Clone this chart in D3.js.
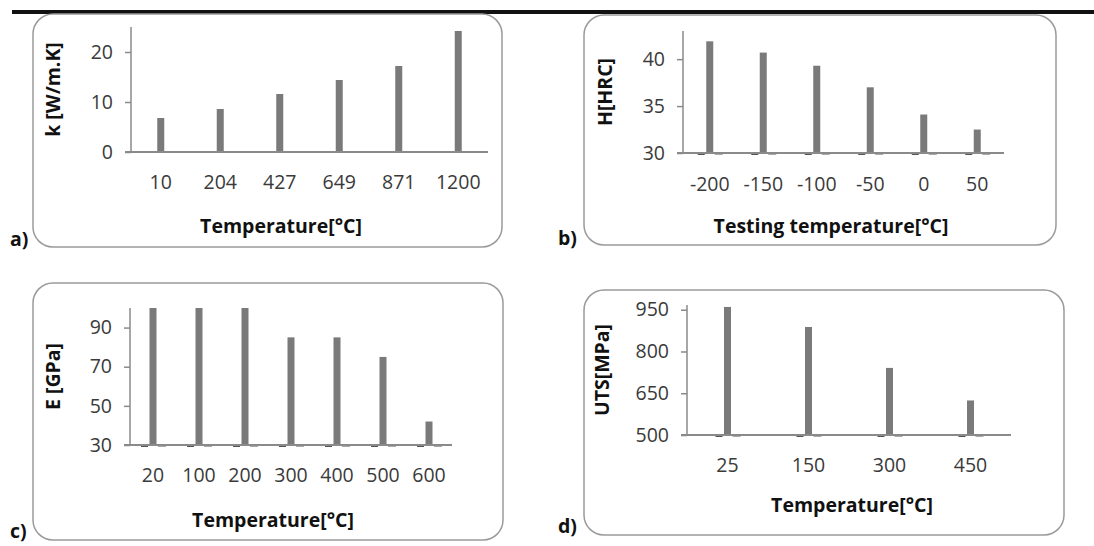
<!DOCTYPE html>
<html>
<head>
<meta charset="utf-8">
<script src="https://cdn.jsdelivr.net/npm/d3@7"></script>
<style>
  body { margin: 0; background: #fff; }
  svg { display: block; }
  .tick text { font-family: "Open Sans", sans-serif; font-size: 19.5px; fill: #3a3a3a; }
  .title { font-family: "Open Sans", sans-serif; font-size: 19.5px; font-weight: bold; fill: #111; }
</style>
</head>
<body>
<div id="chart"></div>
<script>
/* data */
var aCategories = ["10", "204", "427", "649", "871", "1200"];
var aValues = [6.8, 8.6, 11.6, 14.4, 17.2, 24.2];
var aTicks = [0, 10, 20];

var bCategories = ["-200", "-150", "-100", "-50", "0", "50"];
var bValues = [41.9, 40.7, 39.3, 37.0, 34.1, 32.5];
var bTicks = [30, 35, 40];

var cCategories = ["20", "100", "200", "300", "400", "500", "600"];
var cValues = [100, 100, 100, 85, 85, 75, 42];
var cTicks = [30, 50, 70, 90];

var dCategories = ["25", "150", "300", "450"];
var dValues = [960, 888, 741, 624];
var dTicks = [500, 650, 800, 950];

var W = 1094, H = 546;
var svg = d3.select("#chart").append("svg").attr("width", W).attr("height", H);

// top rule
svg.append("line")
  .attr("x1", 12).attr("x2", W).attr("y1", 12).attr("y2", 12)
  .attr("stroke", "#111").attr("stroke-width", 4);

var panels = [
  {box: [33, 14, 469, 233], left: 131, right: 488, top: 27, bottom: 152,
   cats: aCategories, vals: aValues, ticks: aTicks, domain: [0, 25],
   ytitle: "k [W/m.K]", ytx: 55, xtitle: "Temperature[°C]", xtx: 281, xty: 228, tly: 188,
   label: "a)", lx: 10, ly: 246, marks: false},
  {box: [584, 15, 472, 230], left: 683, right: 1004, top: 31, bottom: 153,
   cats: bCategories, vals: bValues, ticks: bTicks, domain: [30, 43],
   ytitle: "H[HRC]", ytx: 607, xtitle: "Testing temperature[°C]", xtx: 831, xty: 228, tly: 190,
   label: "b)", lx: 558, ly: 245, marks: true},
  {box: [33, 283, 470, 257], left: 130, right: 452, top: 308, bottom: 445,
   cats: cCategories, vals: cValues, ticks: cTicks, domain: [30, 100],
   ytitle: "E [GPa]", ytx: 55, xtitle: "Temperature[°C]", xtx: 273, xty: 522, tly: 481,
   label: "c)", lx: 10, ly: 538, marks: true},
  {box: [584, 290, 480, 245], left: 687, right: 1011, top: 305, bottom: 435,
   cats: dCategories, vals: dValues, ticks: dTicks, domain: [500, 967],
   ytitle: "UTS[MPa]", ytx: 604, xtitle: "Temperature[°C]", xtx: 852, xty: 507, tly: 471,
   label: "d)", lx: 558, ly: 533, marks: true}
];

panels.forEach(drawPanel);

function drawPanel(p) {
  var g = svg.append("g");

  /* rounded frame */
  g.append("rect")
    .attr("x", p.box[0]).attr("y", p.box[1])
    .attr("width", p.box[2]).attr("height", p.box[3])
    .attr("rx", 20).attr("ry", 20)
    .attr("fill", "none").attr("stroke", "#9a9a9a").attr("stroke-width", 1.5);

  var x = d3.scaleBand().domain(p.cats).range([p.left, p.right]);
  var y = d3.scaleLinear().domain(p.domain).range([p.bottom, p.top]);

  // base marks at each category (second, near-zero series)
  if (p.marks) {
    g.selectAll(".mark")
      .data(p.cats)
      .enter().append("rect")
      .attr("x", function(d) { return x(d) + x.bandwidth() / 2 - 12; })
      .attr("y", p.bottom - 1)
      .attr("width", 7).attr("height", 3)
      .attr("fill", "#555");
    g.selectAll(".mark2")
      .data(p.cats)
      .enter().append("rect")
      .attr("x", function(d) { return x(d) + x.bandwidth() / 2 + 5; })
      .attr("y", p.bottom)
      .attr("width", 8).attr("height", 2)
      .attr("fill", "#aaa");
  }

  g.selectAll(".bar")
    .data(p.vals)
    .enter().append("rect")
    .attr("x", function(d, i) { return x(p.cats[i]) + x.bandwidth() / 2 - 3.5; })
    .attr("y", function(d) { return y(d); })
    .attr("width", 7)
    .attr("height", function(d) { return p.bottom - y(d); })
    .attr("fill", "#7a7a7a");

  /* axes */
  var yAxis = g.append("g")
    .attr("transform", "translate(" + p.left + ",0)")
    .call(d3.axisLeft(y).tickValues(p.ticks).tickSize(6).tickPadding(12).tickFormat(d3.format("d")));
  yAxis.select(".domain").attr("stroke", "#8a8a8a").attr("stroke-width", 1.5)
    .attr("d", "M0," + p.top + "V" + p.bottom);
  yAxis.selectAll(".tick line").attr("stroke", "#8a8a8a").attr("stroke-width", 1.5);

  var xAxis = g.append("g")
    .attr("transform", "translate(0," + p.bottom + ")")
    .call(d3.axisBottom(x).tickSize(0).tickPadding(p.tly - p.bottom - 13));
  xAxis.select(".domain").attr("stroke", "#8a8a8a").attr("stroke-width", 2)
    .attr("d", "M" + (p.left - 6) + ",0H" + p.right);

  /* titles */
  g.append("text").attr("class", "title")
    .attr("x", p.xtx).attr("y", p.xty)
    .attr("text-anchor", "middle").attr("dominant-baseline", "middle")
    .text(p.xtitle);
  g.append("text").attr("class", "title")
    .attr("transform", "translate(" + p.ytx + "," + ((p.top + p.bottom) / 2) + ") rotate(-90)")
    .attr("text-anchor", "middle").attr("dominant-baseline", "middle")
    .text(p.ytitle);
  g.append("text").attr("class", "title")
    .attr("x", p.lx).attr("y", p.ly)
    .text(p.label);
}
</script>
</body>
</html>
